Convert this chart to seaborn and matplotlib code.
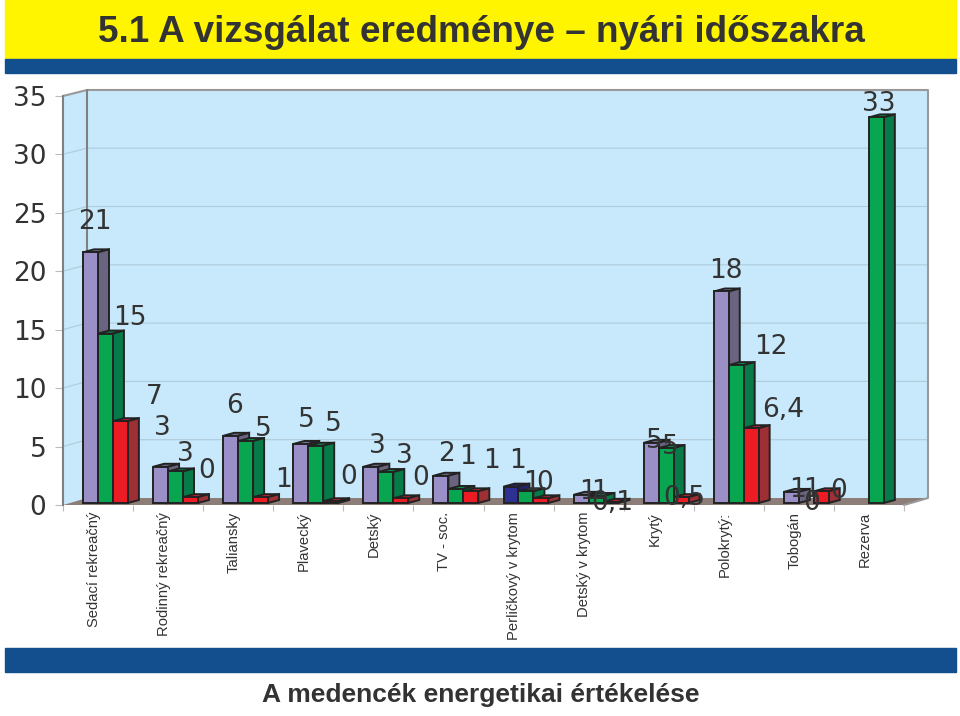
import numpy as np
import pandas as pd
import matplotlib
matplotlib.use('Agg')
import matplotlib.pyplot as plt
from matplotlib.patches import Polygon, Rectangle
from matplotlib.transforms import Affine2D
import seaborn as sns

# values
categories = ['Sedací rekreačný', 'Rodinný rekreačný', 'Taliansky', 'Plavecký', 'Detský', 'TV - soc.',
              'Perličkový v krytom', 'Detský v krytom', 'Krytý', 'Polokrytý:', 'Tobogán', 'Rezerva']
series_a = [21.45, 3.1, 5.75, 5.05, 3.1, 2.33, 1.4, 0.7, 5.15, 18.1, 0.95, 0]
series_b = [14.5, 2.7, 5.3, 4.9, 2.65, 1.2, 1.0, 0.6, 4.7, 11.8, 0, 33]
series_c = [7.0, 0.5, 0.5, 0.15, 0.4, 1.0, 0.4, 0.1, 0.5, 6.4, 1.0, 0]
y_ticks = [0, 5, 10, 15, 20, 25, 30, 35]

# printed labels, and where they sit in the picture
value_labels = ['21', '15', '7', '3', '3', '0', '6', '5', '1', '5', '5', '0', '3', '3', '0', '2', '1', '1', '1',
                '1', '0', '1', '1', '0,1', '5', '5', '0,5', '18', '12', '6,4', '1', '1', '0', '0', '33']
label_x = [95, 130, 154, 162, 185, 207, 234, 263, 283, 306, 333, 349, 377, 404, 421, 447, 467, 491, 517,
           531, 545, 587, 600, 612, 654, 670, 684, 726, 771, 783, 797, 811, 812, 839, 879]
label_y = [220, 316, 395, 426, 452, 469, 404, 427, 478, 418, 422, 475, 444, 454, 476, 452, 455, 459, 459,
           481, 481, 490, 490, 501, 439, 445, 496, 269, 345, 408, 488, 488, 501, 489, 102]

W, H = 960, 716
colors = ['#9A8FC6', '#08A650', '#ED1C24']
side_colors = ['#6B6480', '#067A48', '#9E2F35']
top_colors = ['#7D7598', '#078F4C', '#C2242B']
text_col = '#333333'
edge = '#222222'

sns.set_theme(style='white')
plt.rcParams['font.family'] = ['Liberation Sans', 'DejaVu Sans']

fig = plt.figure(figsize=(W / 100, H / 100), dpi=100, facecolor='white')
px = Affine2D().scale(1, -1).translate(0, H)

# bands on top and bottom
fig.add_artist(Rectangle((5, 0), 951, 59, color='#FFF500', transform=px, zorder=-5))
fig.add_artist(Rectangle((5, 59), 951, 14, color='#134E8E', transform=px, zorder=-5))
fig.add_artist(Rectangle((5, 648), 951, 24, color='#134E8E', transform=px, zorder=-5))

# walls and floor
wall = '#C7E9FB'
fig.add_artist(Polygon([(87, 90), (928, 90), (928, 498), (87, 498)], fc=wall, ec='none', transform=px, zorder=-4))
fig.add_artist(Polygon([(63, 96), (87, 90), (87, 498), (63, 505)], fc=wall, ec='none', transform=px, zorder=-4))
for k in y_ticks[1:-1]:
    yb = 498 - k * 11.66
    yf = 505 - k * 11.69
    fig.add_artist(plt.Line2D([63, 87, 928], [yf, yb, yb], color='#B0CBDA', lw=0.8, transform=px, zorder=-3))
fig.add_artist(Polygon([(63, 505), (87, 498), (928, 498), (904, 505)], fc='#8C7D78', ec='none', transform=px, zorder=-3))
fig.add_artist(plt.Line2D([63, 87, 928, 928, 904], [96, 90, 90, 498, 505], color='#999999', lw=1.5, transform=px, zorder=-2))
fig.add_artist(plt.Line2D([87, 87], [90, 498], color='#808080', lw=1.5, transform=px, zorder=-2))

# front plane of the chart
ax = fig.add_axes([63 / W, 1 - 505 / H, (904 - 63) / W, (505 - 96) / H])
ax.patch.set_alpha(0)

df = pd.DataFrame({'cat': categories, 'a': series_a, 'b': series_b, 'c': series_c})
df = df.melt(id_vars='cat', var_name='series', value_name='value')
sns.barplot(data=df, x='cat', y='value', hue='series', order=categories, palette=colors, saturation=1,
            width=0.64, edgecolor=edge, linewidth=1.4, legend=False, ax=ax)

base = 2 / 11.69
ax.set_xlim(-0.606, 11.39)
ax.set_ylim(-base, 34.82)

# fake depth of the bars
dx = 11 / 70.1
dy = 3 / 11.69
for i, cont in enumerate(ax.containers):
    for j, bar in enumerate(cont.patches):
        h = bar.get_height()
        bar.set_zorder(4 + i)
        if h <= 0:
            bar.set_visible(False)
            continue
        x0 = bar.get_x()
        x1 = x0 + bar.get_width()
        side = side_colors[i]
        top = top_colors[i]
        if i == 0 and categories[j].startswith('Perli'):
            bar.set_facecolor('#2E3192')
            side = '#232570'
            top = '#282A80'
        ax.add_patch(Polygon([(x0, h), (x1, h), (x1 + dx, h + dy), (x0 + dx, h + dy)], fc=top, ec=edge, lw=1.4, zorder=3.5 + i))
        ax.add_patch(Polygon([(x1, 0), (x1, h), (x1 + dx, h + dy), (x1 + dx, dy)], fc=side, ec=edge, lw=1.4, zorder=3.5 + i))

sns.despine(ax=ax, top=True, right=True, bottom=True)
ax.spines['left'].set_color('#808080')
ax.spines['left'].set_linewidth(1.5)
ax.set_xlabel('')
ax.set_ylabel('')
ax.set_yticks(np.array(y_ticks) - base, labels=y_ticks)
ax.tick_params(axis='y', length=6, width=0.8, color='#BBBBBB', labelsize=19, labelcolor=text_col, pad=6, left=True)
for t in ax.get_yticklabels():
    t.set_family(['DejaVu Sans'])

# category names sit left of the bars, boundary ticks are minor ticks
ax.set_xticks(np.arange(12) - 0.165, labels=categories, rotation=90, ha='center', va='top')
ax.set_xticks(-0.606 + np.arange(13), minor=True)
ax.tick_params(axis='x', which='major', length=0, pad=5, labelsize=10.6, labelcolor=text_col)
ax.tick_params(axis='x', which='minor', length=4.5, width=0.8, color='#BBBBBB', bottom=True)

for s, x, y in zip(value_labels, label_x, label_y):
    fig.text(x, y + 2, s, transform=px, ha='center', va='center', fontsize=19, color=text_col, family=['DejaVu Sans'], zorder=10)

fig.text(481, 33, '5.1 A vizsgálat eredménye – nyári időszakra', transform=px, ha='center', va='center',
         fontsize=26.6, color=text_col, fontweight='bold')
fig.text(481, 695, 'A medencék energetikai értékelése', transform=px, ha='center', va='center',
         fontsize=19, color=text_col, fontweight='bold')

fig.savefig('out.png', dpi=100)
